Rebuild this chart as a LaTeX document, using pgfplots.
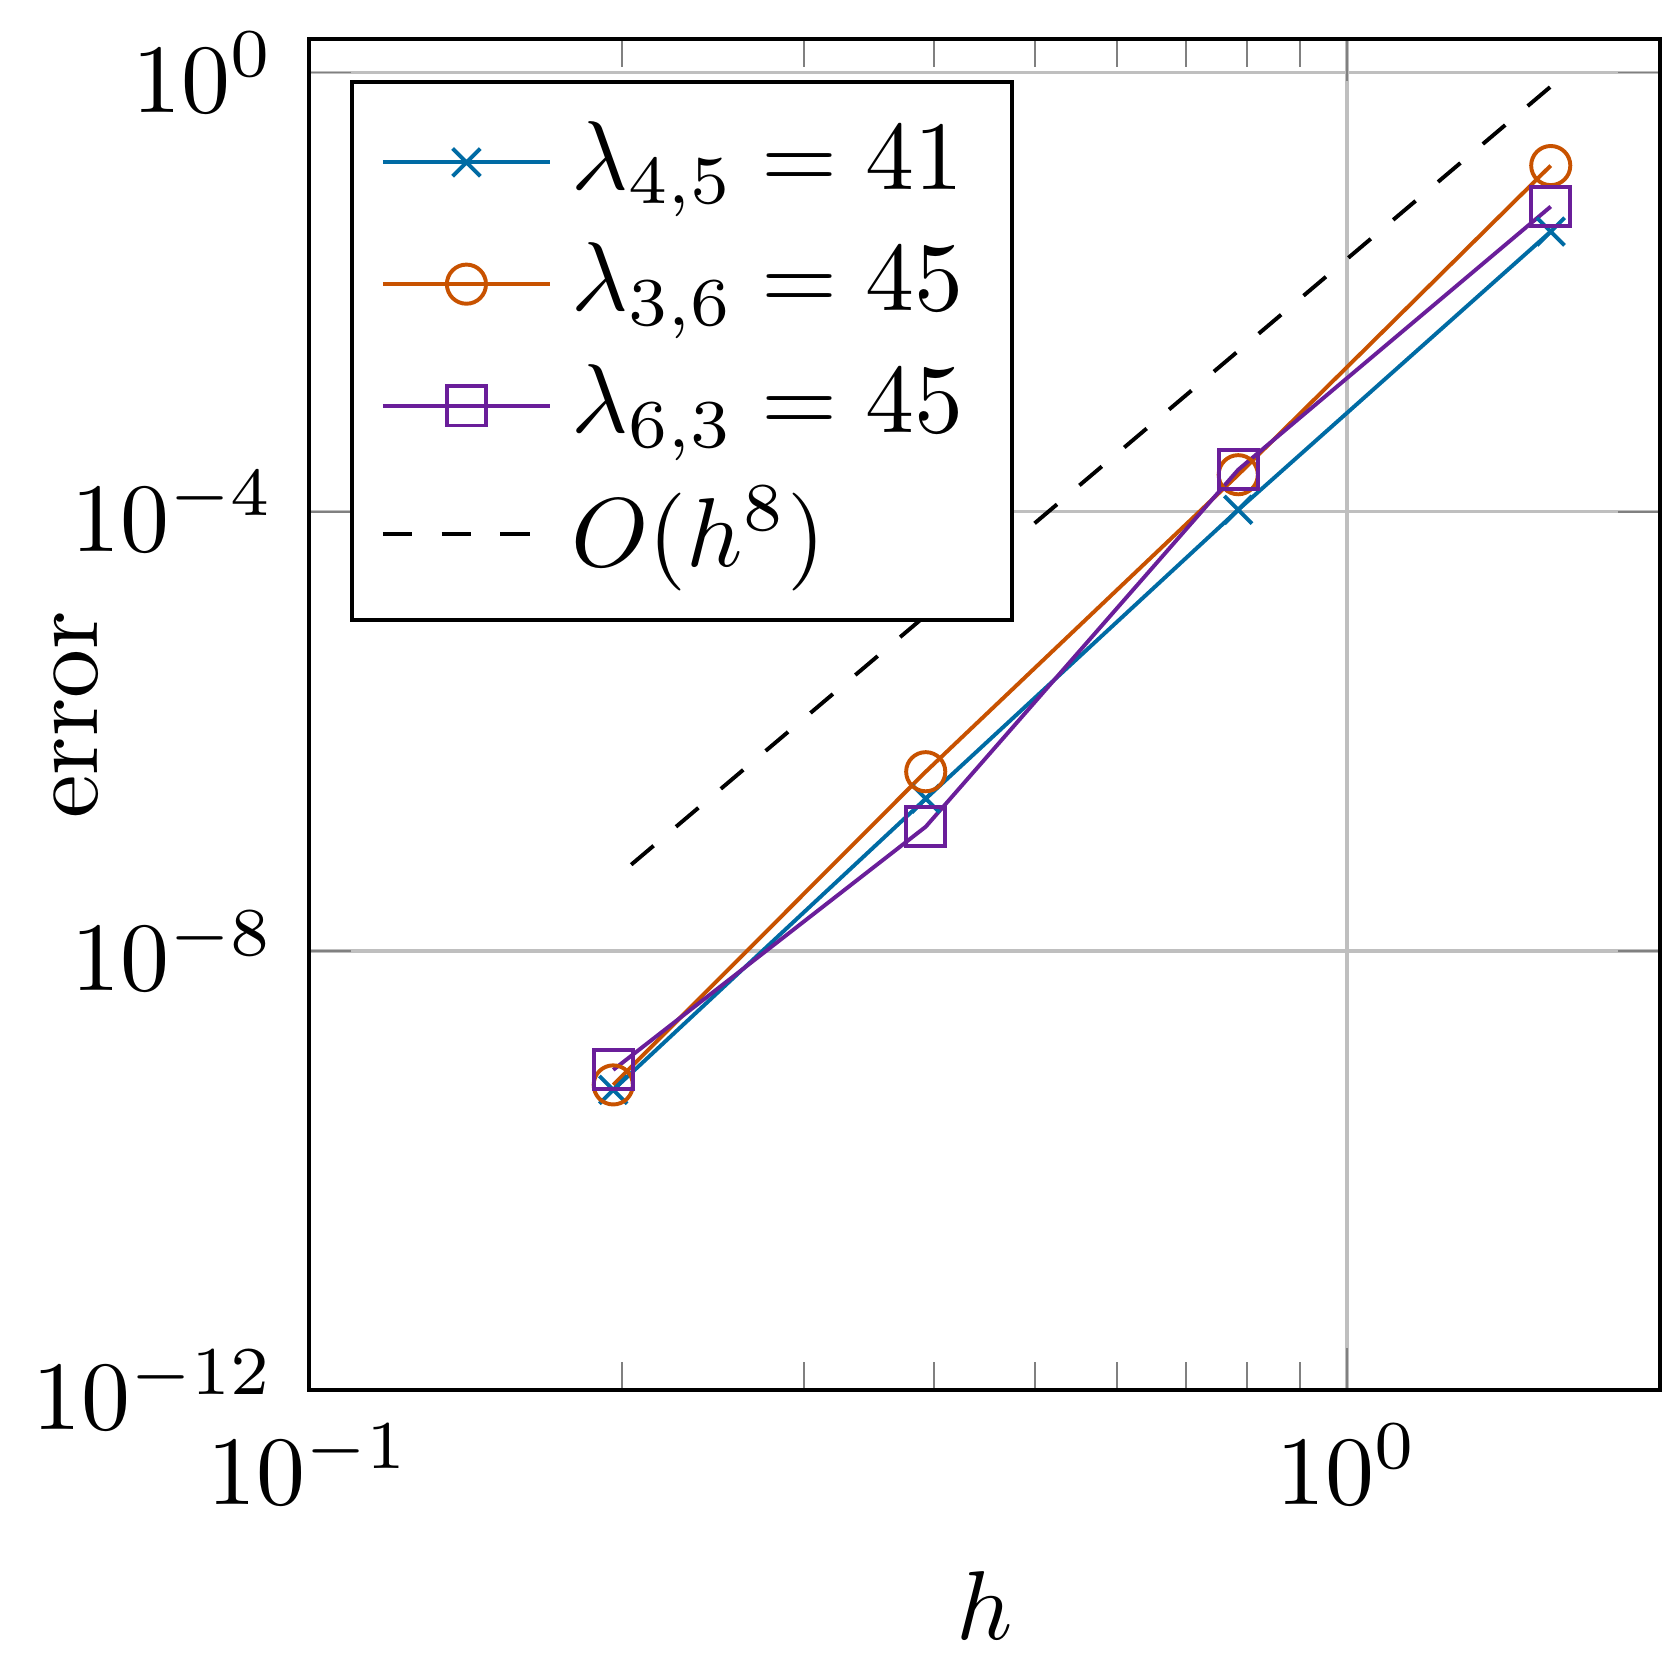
\documentclass[border=0pt]{standalone}
\usepackage{pgfplots}
\pgfplotsset{compat=1.18}
\definecolor{cblue}{RGB}{0,107,164}
\definecolor{corange}{RGB}{200,82,0}
\definecolor{cpurple}{RGB}{106,30,154}
\begin{document}
\begin{tikzpicture}
\begin{loglogaxis}[
  scale only axis,
  width=138pt, height=138pt,
  xmin=0.1, xmax=2,
  ymin=1e-12, ymax=2,
  ytick={1e-12,1e-8,1e-4,1},
  grid=major,
  major grid style={gray!50, line width=0.35pt},
  xlabel={$h$},
  ylabel={error},
  ylabel style={at={(axis description cs:-0.13,0.5)}, anchor=south},
  legend cell align=left,
  legend style={at={(0.03,0.97)}, anchor=north west},
]
\addplot[color=cblue, mark=x] coordinates {
  (0.19635, 5.41e-10) (0.39270, 2.43e-7) (0.78540, 1.04e-4) (1.57080, 0.0356)
};
\addlegendentry{$\lambda_{4,5} = 41$}
\addplot[color=corange, mark=o] coordinates {
  (0.19635, 6.01e-10) (0.39270, 4.28e-7) (0.78540, 2.17e-4) (1.57080, 0.142)
};
\addlegendentry{$\lambda_{3,6} = 45$}
\addplot[color=cpurple, mark=square] coordinates {
  (0.19635, 8.24e-10) (0.39270, 1.35e-7) (0.78540, 2.41e-4) (1.57080, 0.0601)
};
\addlegendentry{$\lambda_{6,3} = 45$}
\addplot[black, dashed] coordinates {
  (0.2043, 6.09e-8) (1.57080, 0.745)
};
\addlegendentry{$O(h^8)$}
\end{loglogaxis}
\end{tikzpicture}
\end{document}
